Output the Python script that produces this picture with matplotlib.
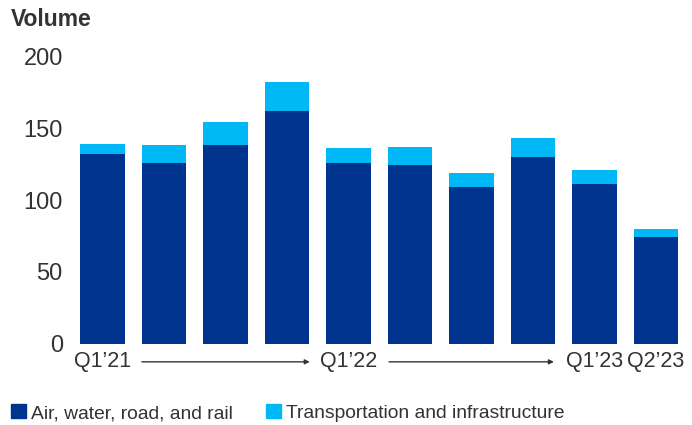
import matplotlib.pyplot as plt
from matplotlib.patches import Patch

plt.rcParams['font.family'] = ['Liberation Sans', 'DejaVu Sans']

quarters = ["Q1\u201921", "Q2\u201921", "Q3\u201921", "Q4\u201921",
            "Q1\u201922", "Q2\u201922", "Q3\u201922", "Q4\u201922",
            "Q1\u201923", "Q2\u201923"]
air_water_road_rail = [132, 126, 138, 162, 126, 124, 109, 130, 111, 74]
transport_infra = [7, 12, 16, 20, 10, 13, 10, 13, 10, 6]

dark_blue = '#00338D'
light_blue = '#00B8F5'
text_col = '#333333'

fig = plt.figure(figsize=(6.92, 4.25), dpi=100)
ax = fig.add_axes([0.0948, 0.1906, 0.8976, 0.6776])

x = list(range(len(quarters)))
ax.bar(x, air_water_road_rail, width=0.73, color=dark_blue)
ax.bar(x, transport_infra, width=0.73, bottom=air_water_road_rail, color=light_blue)

ax.set_xlim(-0.6, 9.5)
ax.set_ylim(0, 200)
ax.set_yticks([0, 50, 100, 150, 200])
ax.tick_params(axis='y', length=0, pad=2, labelsize=17, labelcolor=text_col)

# only a few quarters get labels; arrows bridge the gaps
shown = [0, 4, 8, 9]
ax.set_xticks(shown)
ax.set_xticklabels([quarters[i] for i in shown])
ax.tick_params(axis='x', length=0, pad=5, labelsize=15.5, labelcolor=text_col)

for start, end in [(0.64, 3.37), (4.66, 7.34)]:
    ax.annotate('', xy=(end, -0.062), xytext=(start, -0.062),
                xycoords=('data', 'axes fraction'),
                textcoords=('data', 'axes fraction'),
                arrowprops=dict(arrowstyle='-|>', lw=1.0, color=text_col,
                                mutation_scale=7, shrinkA=0, shrinkB=0),
                annotation_clip=False)

for s in ax.spines.values():
    s.set_visible(False)

fig.text(0.016, 0.955, "Volume", fontsize=16.5, fontweight='bold',
         color=text_col, va='center', ha='left')

handles = [Patch(color=dark_blue, label="Air, water, road, and rail"),
           Patch(color=light_blue, label="Transportation and infrastructure")]
fig.legend(handles=handles, loc='center left', bbox_to_anchor=(0.016, 0.028),
           ncol=2, frameon=False, fontsize=13.9, handlelength=0.76,
           handleheight=0.76, handletextpad=0.26, columnspacing=1.75,
           borderpad=0, borderaxespad=0, labelcolor=text_col)

fig.savefig('out.png', dpi=100)
